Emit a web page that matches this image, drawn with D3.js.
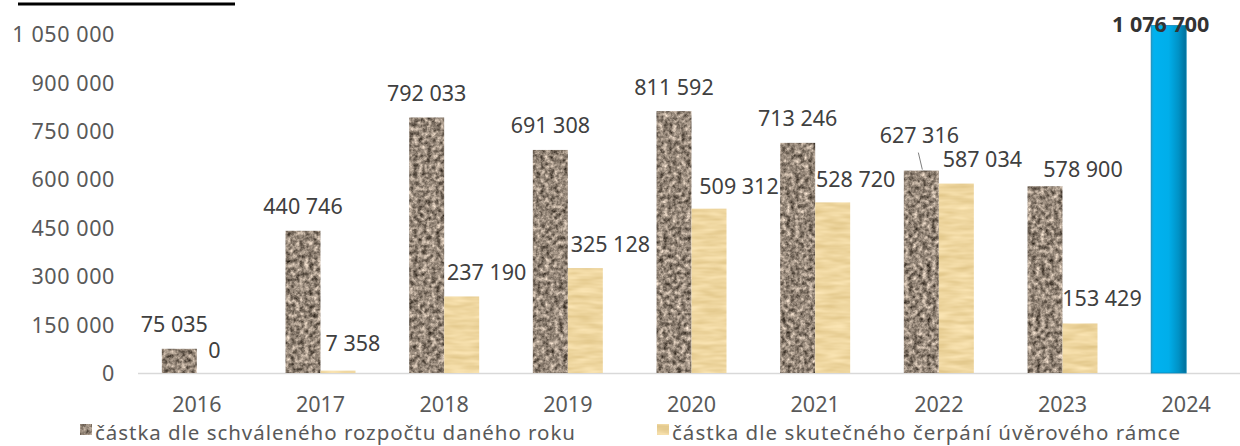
<!DOCTYPE html>
<html>
<head>
<meta charset="utf-8">
<script src="https://cdn.jsdelivr.net/npm/d3@7"></script>
<style>
  html, body { margin: 0; padding: 0; background: #ffffff; }
  svg { display: block; }
  text { font-family: "Noto Sans", "DejaVu Sans", sans-serif; }
</style>
</head>
<body>
<svg id="chart" width="1240" height="446"></svg>
<script>
// ---- data ----
const years = ["2016", "2017", "2018", "2019", "2020", "2021", "2022", "2023", "2024"];
const budget = [75035, 440746, 792033, 691308, 811592, 713246, 627316, 578900, 1076700];
const actual = [0, 7358, 237190, 325128, 509312, 528720, 587034, 153429, null];
const yTicks = [0, 150000, 300000, 450000, 600000, 750000, 900000, 1050000];
const legendLabels = ["částka dle schváleného rozpočtu daného roku", "částka dle skutečného čerpání úvěrového rámce"];

// ---- label layout tweaks (pixels, not data) ----
const budgetLabelDx = [-5, 0, 0, 0, 0, 0, -2, 38, -8];
const budgetLabelDy = [-24, -24, -24, -24, -24, -24, -35, -17, -1];
const actualLabelDx = [0, 15, 25, 25, 30, 23, 26, 22];
const actualLabelDy = [-23, -27, -24, -24, -22, -23, -24, -25];

const svg = d3.select("#chart");
const W = 1240, H = 446;
const defs = svg.append("defs");

// granite texture
const g1 = defs.append("filter").attr("id", "granite")
  .attr("color-interpolation-filters", "sRGB")
  .attr("x", "0%").attr("y", "0%").attr("width", "100%").attr("height", "100%");
g1.append("feTurbulence").attr("type", "fractalNoise").attr("baseFrequency", "0.22")
  .attr("numOctaves", 4).attr("seed", 4).attr("result", "noise");
g1.append("feColorMatrix").attr("in", "noise").attr("type", "matrix")
  .attr("values", "1.05 0 0 0 0.06  1.0 0 0 0 0.03  0.95 0 0 0 0.0  0 0 0 0 1")
  .attr("result", "col");
g1.append("feComposite").attr("in", "col").attr("in2", "SourceGraphic").attr("operator", "in");

// papyrus texture
const g2 = defs.append("filter").attr("id", "papyrus")
  .attr("color-interpolation-filters", "sRGB")
  .attr("x", "0%").attr("y", "0%").attr("width", "100%").attr("height", "100%");
g2.append("feTurbulence").attr("type", "fractalNoise").attr("baseFrequency", "0.04 0.2")
  .attr("numOctaves", 2).attr("seed", 7).attr("result", "noise");
g2.append("feColorMatrix").attr("in", "noise").attr("type", "matrix")
  .attr("values", "0.15 0 0 0 0.86  0.18 0 0 0 0.75  0.25 0 0 0 0.5  0 0 0 0 1")
  .attr("result", "col");
g2.append("feComposite").attr("in", "col").attr("in2", "SourceGraphic").attr("operator", "in");

// blue gradient
const bg = defs.append("linearGradient").attr("id", "blueGrad")
  .attr("x1", "0%").attr("x2", "100%").attr("y1", "0%").attr("y2", "0%");
[["0%", "#1a9fd2"], ["8%", "#00b2f0"], ["50%", "#00aeea"], ["78%", "#0092c6"], ["100%", "#006f9a"]]
  .forEach(([o, c]) => bg.append("stop").attr("offset", o).attr("stop-color", c));

// ---- scales ----
const x = d3.scaleBand().domain(years).range([135, 1248]).padding(0);
const barW = 35;
const series = ["budget", "actual"];
const xSub = d3.scaleBand().domain(series).range([0, 2 * barW]);
const y = d3.scaleLinear().domain([0, 1050000]).range([373, 34.2]);
const barX = (yr, s) => x(yr) + x.bandwidth() / 2 - barW + xSub(s);

const fmt = v => d3.format(",")(v).replace(/,/g, " ");

// top decorative line
svg.append("line").attr("x1", 18).attr("x2", 235).attr("y1", 4).attr("y2", 4)
  .attr("stroke", "#000").attr("stroke-width", 3);

// ---- y axis (labels only) ----
const yAxis = d3.axisLeft(y).tickValues(yTicks).tickSize(0).tickPadding(0).tickFormat(fmt);
const ya = svg.append("g").attr("transform", "translate(115,0)").call(yAxis);
ya.select(".domain").remove();
ya.selectAll("text").attr("fill", "#595959").attr("font-size", 21.5)
  .attr("font-family", "\"Noto Sans\", sans-serif").attr("dy", "0.35em")
  .attr("letter-spacing", 0.6);

// ---- x axis ----
const xAxis = d3.axisBottom(x).tickSize(0).tickPadding(0);
const xa = svg.append("g").attr("transform", `translate(0,${y(0)})`).call(xAxis);
xa.select(".domain").attr("stroke", "#d9d9d9").attr("stroke-width", 1.5)
  .attr("d", `M138,0.5H${W}`);
xa.selectAll("text").attr("fill", "#595959").attr("font-size", 21.5)
  .attr("font-family", "\"Noto Sans\", sans-serif").attr("y", 31).attr("dy", "0.35em");

// ---- bars ----
const budgetData = years.map((yr, i) => ({ yr, v: budget[i], i }));
const actualData = years.map((yr, i) => ({ yr, v: actual[i], i })).filter(d => d.v !== null);

svg.append("g").selectAll("rect").data(budgetData).join("rect")
  .attr("x", d => barX(d.yr, "budget"))
  .attr("y", d => y(d.v))
  .attr("width", barW)
  .attr("height", d => y(0) - y(d.v))
  .attr("fill", d => d.yr === "2024" ? "url(#blueGrad)" : "#958878")
  .attr("filter", d => d.yr === "2024" ? null : "url(#granite)")
  .attr("stroke", d => d.yr === "2024" ? "#0a86b6" : "none")
  .attr("stroke-width", 0.8);

svg.append("g").selectAll("rect").data(actualData).join("rect")
  .attr("x", d => barX(d.yr, "actual"))
  .attr("y", d => y(d.v))
  .attr("width", barW)
  .attr("height", d => Math.max(0, y(0) - y(d.v)))
  .attr("fill", "#eed6a0")
  .attr("filter", "url(#papyrus)");

// ---- labels ----
const lab = svg.append("g").attr("font-size", 21.5).attr("fill", "#404040");
lab.selectAll("text.b").data(budgetData).join("text").attr("class", "b")
  .attr("text-anchor", "middle")
  .attr("x", d => barX(d.yr, "budget") + barW / 2 + budgetLabelDx[d.i])
  .attr("y", d => y(d.v) + budgetLabelDy[d.i])
  .attr("dy", "0.35em")
  .attr("font-weight", d => d.yr === "2024" ? "bold" : null)
  .attr("fill", d => d.yr === "2024" ? "#333333" : "#404040")
  .text(d => fmt(d.v));

lab.selectAll("text.a").data(actualData).join("text").attr("class", "a")
  .attr("text-anchor", "middle")
  .attr("x", d => barX(d.yr, "actual") + barW / 2 + actualLabelDx[d.i])
  .attr("y", d => y(d.v) + actualLabelDy[d.i])
  .attr("dy", "0.35em")
  .text(d => fmt(d.v));

// leader line for 2022 budget label
const i22 = years.indexOf("2022");
const lx = barX("2022", "budget") + barW / 2;
svg.append("line")
  .attr("x1", lx - 3).attr("y1", y(budget[i22]) - 18)
  .attr("x2", lx + 1).attr("y2", y(budget[i22]) - 1)
  .attr("stroke", "#7f7f7f").attr("stroke-width", 1);

// ---- legend ----
const legend = svg.append("g");
const legX = [80, 657];
const legLen = [480, 508];
legendLabels.forEach((t, i) => {
  legend.append("rect").attr("x", legX[i]).attr("y", 424).attr("width", 12).attr("height", 11)
    .attr("fill", i === 0 ? "#958878" : "#eed6a0")
    .attr("filter", i === 0 ? "url(#granite)" : "url(#papyrus)");
  legend.append("text").attr("x", legX[i] + 15).attr("y", 440)
    .attr("font-size", 20.5).attr("fill", "#595959")
    .attr("textLength", legLen[i]).attr("lengthAdjust", "spacing").text(t);
});
</script>
</body>
</html>
